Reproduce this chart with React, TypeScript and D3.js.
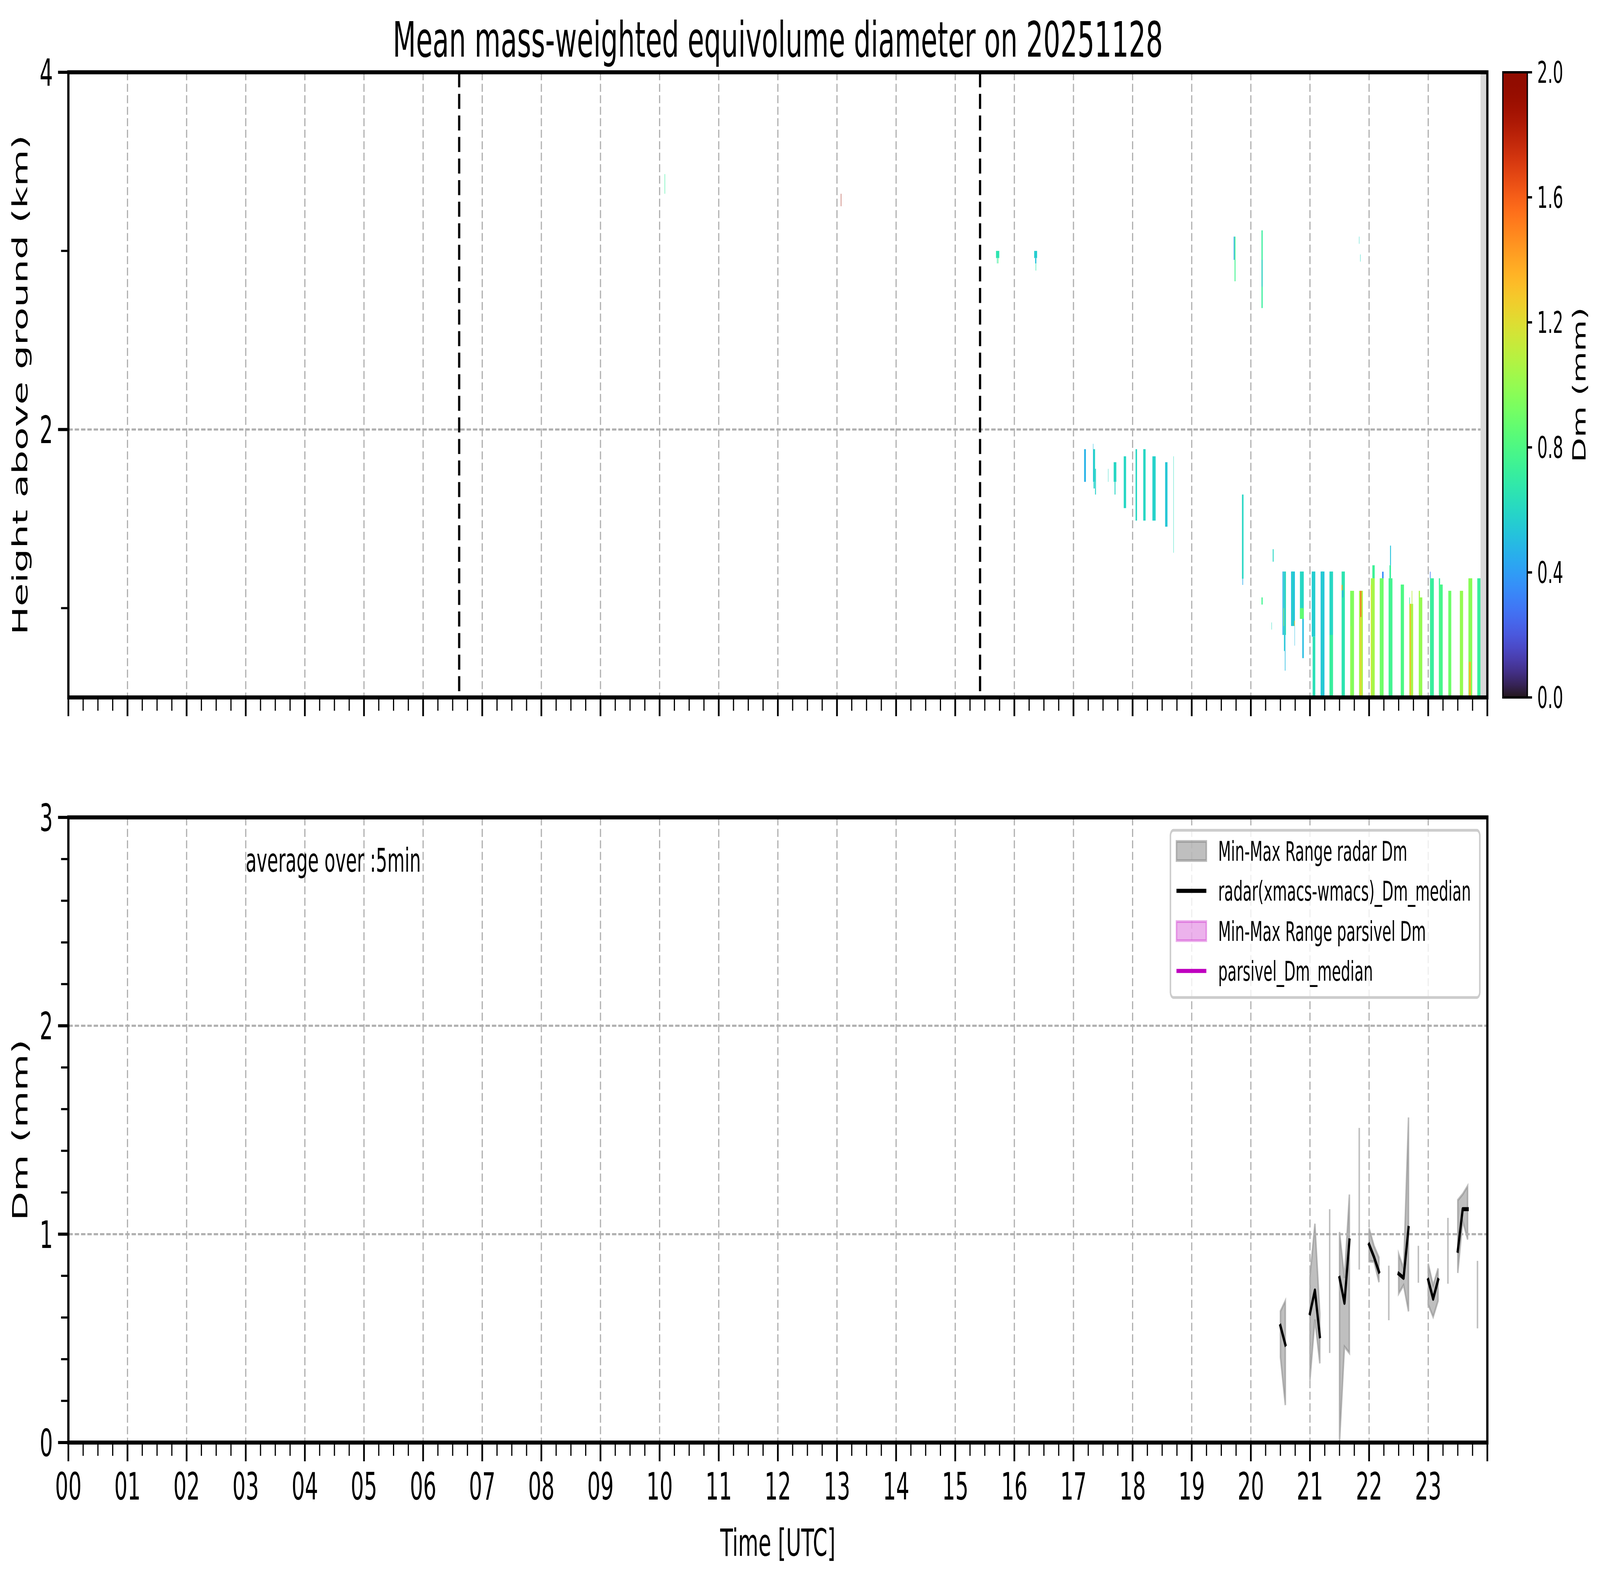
import React, { useEffect } from 'react';
import * as d3 from 'd3';

// [start hour, end hour, bottom km, top km, Dm mm]
type Echo = [number, number, number, number, number];

const FONT = 'DejaVu Sans, Verdana, sans-serif';

const hourLabels = ['00', '01', '02', '03', '04', '05', '06', '07', '08', '09', '10', '11',
  '12', '13', '14', '15', '16', '17', '18', '19', '20', '21', '22', '23'];
const topYTicks = [2, 4];
const topYMinor = [1, 3];
const botYTicks = [0, 1, 2, 3];
const cbarTicks = [0, 0.4, 0.8, 1.2, 1.6, 2.0];
const markerTimes = [6.61, 15.42]; // black dashed lines in the upper panel

// high level echoes
const upperEchoes: Echo[] = [
  [10.085, 10.092, 3.32, 3.43, 0.72],
  [13.066, 13.072, 3.25, 3.32, 1.9],
  [15.69, 15.745, 2.96, 3.0, 0.66],
  [15.705, 15.712, 2.93, 2.96, 0.64],
  [15.72, 15.73, 2.93, 2.96, 0.8],
  [16.335, 16.385, 2.96, 3.0, 0.56],
  [16.352, 16.372, 2.93, 2.96, 0.52],
  [16.36, 16.368, 2.89, 2.93, 0.68],
  [19.71, 19.725, 2.95, 3.08, 0.42],
  [19.725, 19.74, 2.83, 3.08, 0.76],
  [20.18, 20.2, 2.68, 3.115, 0.72],
  [20.186, 20.194, 2.8, 2.95, 0.45],
  [21.83, 21.835, 3.04, 3.08, 0.6],
  [21.85, 21.855, 2.94, 2.98, 0.6],
];

// mid level echoes (17-20 UTC)
const midEchoes: Echo[] = [
  [17.18, 17.21, 1.707, 1.89, 0.47],
  [17.33, 17.336, 1.707, 1.92, 0.5],
  [17.336, 17.365, 1.707, 1.89, 0.58],
  [17.34, 17.36, 1.67, 1.707, 0.58],
  [17.365, 17.38, 1.636, 1.78, 0.58],
  [17.585, 17.59, 1.707, 1.78, 0.6],
  [17.68, 17.725, 1.707, 1.817, 0.6],
  [17.695, 17.71, 1.636, 1.707, 0.6],
  [17.85, 17.89, 1.56, 1.85, 0.6],
  [18.05, 18.075, 1.49, 1.89, 0.6],
  [18.18, 18.22, 1.49, 1.89, 0.6],
  [18.335, 18.39, 1.49, 1.85, 0.58],
  [18.55, 18.59, 1.456, 1.817, 0.54],
  [18.69, 18.695, 1.31, 1.85, 0.62],
  [19.85, 19.876, 1.165, 1.636, 0.6],
  [19.858, 19.868, 1.13, 1.165, 0.45],
  [20.18, 20.2, 1.02, 1.06, 0.76],
  [20.35, 20.355, 0.88, 0.92, 0.62],
  [20.37, 20.385, 1.26, 1.33, 0.6],
];

// low level rain columns (20:30-24 UTC)
const lowEchoes: Echo[] = [
  [20.535, 20.55, 0.85, 1.205, 0.45],
  [20.55, 20.565, 0.85, 1.205, 0.62],
  [20.565, 20.58, 0.85, 1.205, 0.5],
  [20.58, 20.594, 0.85, 1.205, 0.66],
  [20.552, 20.56, 0.9, 1.0, 1.05],
  [20.56, 20.575, 0.76, 0.85, 0.55],
  [20.575, 20.585, 0.65, 0.85, 0.5],
  [20.68, 20.745, 0.9, 1.205, 0.52],
  [20.7, 20.715, 0.9, 1.205, 0.6],
  [20.735, 20.745, 0.9, 0.93, 1.3],
  [20.74, 20.745, 0.79, 0.9, 0.5],
  [20.83, 20.895, 0.94, 1.205, 0.6],
  [20.83, 20.895, 0.94, 1.0, 0.86],
  [20.87, 20.895, 0.72, 0.94, 0.5],
  [21.03, 21.09, 0.84, 1.205, 0.56],
  [21.045, 21.09, 0.5, 0.84, 0.64],
  [21.18, 21.245, 0.5, 1.205, 0.52],
  [21.2, 21.22, 0.5, 1.205, 0.58],
  [21.33, 21.39, 0.85, 1.205, 0.6],
  [21.33, 21.39, 0.5, 0.85, 0.72],
  [21.535, 21.59, 0.5, 1.205, 0.66],
  [21.535, 21.55, 1.1, 1.13, 1.4],
  [21.55, 21.56, 1.06, 1.1, 0.35],
  [21.68, 21.745, 0.5, 1.097, 0.95],
  [21.69, 21.7, 0.5, 0.9, 1.05],
  [21.83, 21.895, 0.5, 1.097, 1.06],
  [21.85, 21.87, 0.95, 1.097, 1.55],
  [21.85, 21.87, 0.5, 0.95, 1.25],
  [22.055, 22.095, 1.167, 1.24, 0.74],
  [22.03, 22.095, 0.5, 1.167, 1.04],
  [22.03, 22.045, 0.5, 1.132, 1.15],
  [22.18, 22.245, 0.5, 1.167, 0.9],
  [22.22, 22.245, 1.167, 1.204, 0.35],
  [22.355, 22.37, 1.24, 1.35, 0.52],
  [22.345, 22.37, 1.167, 1.24, 0.72],
  [22.33, 22.395, 0.5, 1.167, 0.76],
  [22.535, 22.59, 0.5, 1.132, 0.8],
  [22.68, 22.745, 0.5, 1.024, 1.05],
  [22.69, 22.705, 0.5, 1.024, 1.35],
  [22.68, 22.69, 1.024, 1.06, 0.72],
  [22.72, 22.73, 1.024, 1.097, 1.1],
  [22.84, 22.9, 0.5, 1.06, 1.0],
  [22.84, 22.86, 1.06, 1.097, 1.05],
  [23.03, 23.095, 0.5, 1.167, 0.72],
  [23.03, 23.04, 1.167, 1.204, 0.3],
  [23.18, 23.2, 1.132, 1.167, 0.72],
  [23.18, 23.245, 0.5, 1.132, 0.78],
  [23.34, 23.39, 0.5, 1.097, 0.9],
  [23.535, 23.59, 0.5, 1.097, 1.0],
  [23.68, 23.745, 0.5, 1.167, 0.97],
  [23.69, 23.72, 0.5, 0.7, 1.35],
  [23.83, 23.885, 0.5, 1.167, 0.72],
];

// no-data band at the end of the day (hours, km)
const missingBand = [23.885, 24, 0.5, 4];

// 5-min radar Dm statistics (lower panel)
const radarTime = ['20:30', '20:35', '20:40', '20:45', '20:50', '20:55', '21:00', '21:05', '21:10', '21:15',
  '21:20', '21:25', '21:30', '21:35', '21:40', '21:45', '21:50', '21:55', '22:00', '22:05', '22:10', '22:15',
  '22:20', '22:25', '22:30', '22:35', '22:40', '22:45', '22:50', '22:55', '23:00', '23:05', '23:10', '23:15',
  '23:20', '23:25', '23:30', '23:35', '23:40', '23:45', '23:50'];
const radarMin = [0.41, 0.18, null, null, null, null, 0.30, 0.59, 0.38, null,
  0.43, null, 0.0, 0.46, 0.43, null, 0.83, null, 0.87, 0.868, 0.77, null,
  0.587, null, 0.715, 0.755, 0.63, null, 0.767, null, 0.662, 0.603, 0.68, null,
  0.762, null, 0.814, 1.063, 0.975, null, 0.548];
const radarMedian = [0.56, 0.47, null, null, null, null, 0.62, 0.73, 0.51, null,
  null, null, 0.79, 0.67, 0.97, null, null, null, 0.95, 0.89, 0.82, null,
  null, null, 0.81, 0.79, 1.03, null, null, null, 0.78, 0.69, 0.78, null,
  null, null, 0.92, 1.12, 1.12, null, null];
const radarMax = [0.63, 0.68, null, null, null, null, 0.80, 1.05, 0.62, null,
  1.12, null, 1.01, 0.79, 1.19, null, 1.51, null, 1.028, 0.944, 0.888, null,
  0.849, null, 0.905, 0.835, 1.56, null, 0.944, null, 0.858, 0.755, 0.835, null,
  1.078, null, 1.163, 1.192, 1.231, null, 0.872];

const legendLabels = ['Min-Max Range radar Dm', 'radar(xmacs-wmacs)_Dm_median',
  'Min-Max Range parsivel Dm', 'parsivel_Dm_median'];
const legendKinds = ['patch', 'line', 'patch', 'line'];
const legendColors = ['#808080', '#000000', '#bf00bf', '#bf00bf'];
const legendAlpha = [0.5, 1, 0.3, 1];

// layout (pixels of the 7442x4031 figure)
const W = 7442;
const H = 4031;
const L = 318;
const R = 6918;
const TOP0 = 185;
const TOP1 = 1785;
const BOT0 = 2092;
const BOT1 = 3692;
const TICK_BIG = 48;
const TICK_SMALL = 34;

const toHour = (s: string) => {
  const [h, m] = s.split(':').map(Number);
  return h + m / 60;
};

const App: React.FC = () => {
  useEffect(() => {
    document.body.style.margin = '0';
    document.body.style.overflow = 'hidden';
  }, []);

  const x = d3.scaleLinear().domain([0, 24]).range([L, R]);
  const yTop = d3.scaleLinear().domain([0.5, 4]).range([TOP1, TOP0]);
  const yBot = d3.scaleLinear().domain([0, 3]).range([BOT1, BOT0]);
  const color = d3.scaleSequential(d3.interpolateTurbo).domain([0, 2]);
  const cbarX0 = 6990;
  const cbarX1 = 7104;

  const hours = d3.range(0, 25);
  const quarters = d3.range(0, 24.001, 0.25).filter((v) => v % 1 !== 0);
  const botMinor = d3.range(0, 3.001, 0.2).filter((v) => Math.abs(v - Math.round(v)) > 1e-6);

  const radar = radarTime.map((t, i) => ({
    t: toHour(t), lo: radarMin[i], med: radarMedian[i], hi: radarMax[i],
  }));
  const area = d3.area<any>()
    .defined((d) => d.lo != null && d.hi != null)
    .x((d) => x(d.t))
    .y0((d) => yBot(d.lo))
    .y1((d) => yBot(d.hi));
  const line = d3.line<any>()
    .defined((d) => d.med != null)
    .x((d) => x(d.t))
    .y((d) => yBot(d.med));

  const gridStyle = { stroke: '#b0b0b0', strokeWidth: 5.5, strokeDasharray: '20.5 8.9' };
  const echoes = [...upperEchoes, ...midEchoes, ...lowEchoes];

  const xAxis = (yBase: number, labels: boolean) => (
    <g>
      {hours.map((h) => (
        <line key={'M' + h} x1={x(h)} x2={x(h)} y1={yBase} y2={yBase + TICK_BIG} stroke="#000" strokeWidth={8} />
      ))}
      {quarters.map((h) => (
        <line key={'m' + h} x1={x(h)} x2={x(h)} y1={yBase} y2={yBase + TICK_SMALL} stroke="#000" strokeWidth={5.5} />
      ))}
      {labels && hourLabels.map((lab, i) => (
        <text key={lab} x={x(i)} y={yBase + 146} textAnchor="middle" fontSize={97} fontFamily={FONT}>{lab}</text>
      ))}
    </g>
  );

  const legendRowY = [2178, 2280, 2383, 2485];

  return (
    <svg viewBox={`0 0 ${W} ${H}`} preserveAspectRatio="none"
      style={{ position: 'absolute', left: 0, top: 0, width: '100vw', height: '100vh', display: 'block', background: '#fff' }}>
      <defs>
        <linearGradient id="turbo" x1="0" y1="1" x2="0" y2="0">
          {d3.range(0, 1.0001, 0.02).map((t) => (
            <stop key={t} offset={t} stopColor={d3.interpolateTurbo(t)} />
          ))}
        </linearGradient>
        <clipPath id="clipTop"><rect x={L} y={TOP0} width={R - L} height={TOP1 - TOP0} /></clipPath>
        <clipPath id="clipBot"><rect x={L} y={BOT0} width={R - L} height={BOT1 - BOT0} /></clipPath>
      </defs>
      <rect x={0} y={0} width={W} height={H} fill="#fff" />

      <text x={(L + R) / 2} y={145} textAnchor="middle" fontSize={125} fontFamily={FONT}>
        Mean mass-weighted equivolume diameter on 20251128
      </text>

      {/* ---------- upper panel ---------- */}
      <g clipPath="url(#clipTop)">
        {echoes.map((e, i) => (
          <rect key={i} x={x(e[0])} y={yTop(e[3])} width={Math.max(1.5, x(e[1]) - x(e[0]))}
            height={yTop(e[2]) - yTop(e[3])} fill={color(e[4])} />
        ))}
        {hours.slice(1, 24).map((h) => (
          <line key={h} x1={x(h)} x2={x(h)} y1={TOP0} y2={TOP1} {...gridStyle} />
        ))}
        <line x1={L} x2={R} y1={yTop(2)} y2={yTop(2)} {...gridStyle} />
        <rect x={x(missingBand[0])} y={yTop(missingBand[3])} width={x(missingBand[1]) - x(missingBand[0])}
          height={yTop(missingBand[2]) - yTop(missingBand[3])} fill="#d9d9d9" />
        {markerTimes.map((t) => (
          <line key={t} x1={x(t)} x2={x(t)} y1={TOP0} y2={TOP1} stroke="#000" strokeWidth={10.4}
            strokeDasharray="38.5 16.7" />
        ))}
      </g>
      <rect x={L} y={TOP0} width={R - L} height={TOP1 - TOP0} fill="none" stroke="#000" strokeWidth={10.4} />
      {topYTicks.map((v) => (
        <g key={v}>
          <line x1={L - TICK_BIG} x2={L} y1={yTop(v)} y2={yTop(v)} stroke="#000" strokeWidth={8} />
          <text x={L - 72} y={yTop(v)} dy="0.36em" textAnchor="end" fontSize={97} fontFamily={FONT}>{v}</text>
        </g>
      ))}
      {topYMinor.map((v) => (
        <line key={v} x1={L - TICK_SMALL} x2={L} y1={yTop(v)} y2={yTop(v)} stroke="#000" strokeWidth={5.5} />
      ))}
      {xAxis(TOP1, false)}
      <text transform={`translate(128,${(TOP0 + TOP1) / 2}) rotate(-90)`} textAnchor="middle"
        fontSize={97} fontFamily={FONT}>Height above ground (km)</text>

      {/* colorbar */}
      <rect x={cbarX0} y={TOP0} width={cbarX1 - cbarX0} height={TOP1 - TOP0} fill="url(#turbo)"
        stroke="#000" strokeWidth={6} />
      {cbarTicks.map((v) => {
        const yy = TOP1 - (v / 2) * (TOP1 - TOP0);
        return (
          <g key={v}>
            <line x1={cbarX1} x2={cbarX1 + 22} y1={yy} y2={yy} stroke="#000" strokeWidth={6} />
            <text x={cbarX1 + 46} y={yy} dy="0.36em" fontSize={76} fontFamily={FONT}>{v.toFixed(1)}</text>
          </g>
        );
      })}
      <text transform={`translate(7375,${(TOP0 + TOP1) / 2}) rotate(-90)`} textAnchor="middle"
        fontSize={83} fontFamily={FONT}>Dm (mm)</text>

      {/* ---------- lower panel ---------- */}
      <g clipPath="url(#clipBot)">
        <path d={area(radar) || ''} fill="#808080" fillOpacity={0.5} stroke="#808080" strokeOpacity={0.5}
          strokeWidth={7} />
        {hours.slice(1, 24).map((h) => (
          <line key={h} x1={x(h)} x2={x(h)} y1={BOT0} y2={BOT1} {...gridStyle} />
        ))}
        {[1, 2].map((v) => (
          <line key={v} x1={L} x2={R} y1={yBot(v)} y2={yBot(v)} {...gridStyle} />
        ))}
        <path d={line(radar) || ''} fill="none" stroke="#000" strokeWidth={10.4} strokeLinecap="square"
          strokeLinejoin="round" />
      </g>
      <text x={x(3)} y={yBot(2.74)} fontSize={83} fontFamily={FONT}>average over :5min</text>

      {/* legend */}
      <rect x={5444} y={2125} width={1439} height={428} rx={14} fill="#fff" fillOpacity={0.8}
        stroke="#cccccc" strokeWidth={7} />
      {legendLabels.map((lab, i) => {
        const yy = legendRowY[i];
        return (
          <g key={lab}>
            {legendKinds[i] === 'patch' ? (
              <rect x={5472} y={yy - 24.5} width={139} height={49} fill={legendColors[i]}
                fillOpacity={legendAlpha[i]} stroke={legendColors[i]} strokeOpacity={legendAlpha[i]} strokeWidth={7} />
            ) : (
              <line x1={5472} x2={5611} y1={yy} y2={yy} stroke={legendColors[i]} strokeWidth={10.4} />
            )}
            <text x={5666} y={yy} dy="0.36em" fontSize={69} fontFamily={FONT}>{lab}</text>
          </g>
        );
      })}

      <rect x={L} y={BOT0} width={R - L} height={BOT1 - BOT0} fill="none" stroke="#000" strokeWidth={10.4} />
      {botYTicks.map((v) => (
        <g key={v}>
          <line x1={L - TICK_BIG} x2={L} y1={yBot(v)} y2={yBot(v)} stroke="#000" strokeWidth={8} />
          <text x={L - 72} y={yBot(v)} dy="0.36em" textAnchor="end" fontSize={97} fontFamily={FONT}>{v}</text>
        </g>
      ))}
      {botMinor.map((v) => (
        <line key={v} x1={L - TICK_SMALL} x2={L} y1={yBot(v)} y2={yBot(v)} stroke="#000" strokeWidth={5.5} />
      ))}
      {xAxis(BOT1, true)}
      <text transform={`translate(128,${(BOT0 + BOT1) / 2}) rotate(-90)`} textAnchor="middle"
        fontSize={97} fontFamily={FONT}>Dm (mm)</text>
      <text x={(L + R) / 2} y={3982} textAnchor="middle" fontSize={97} fontFamily={FONT}>Time [UTC]</text>
    </svg>
  );
};

export default App;
